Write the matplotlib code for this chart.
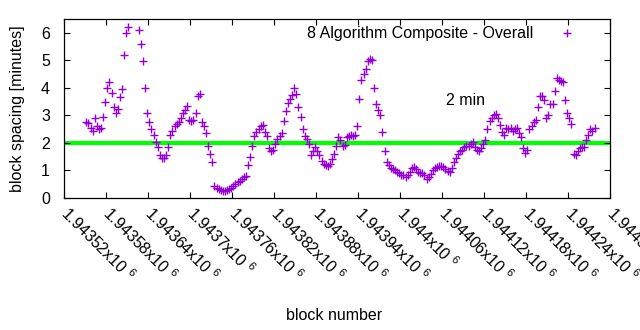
import numpy as np
import matplotlib
matplotlib.use("Agg")
import matplotlib.pyplot as plt

plt.rcParams['font.family'] = ['Liberation Sans', 'DejaVu Sans']
plt.rcParams['mathtext.fontset'] = 'custom'
plt.rcParams['mathtext.rm'] = 'Liberation Sans'

# block numbers: every third block starting here
first_block = 1943552
block_step = 3

# average block spacing in minutes (nan = no data)
spacing = [
    2.75, 2.72, 2.55, 2.45, 2.9, 2.6, 2.5, 2.55, 2.95, 3.5,
    4.0, 4.2, 3.8, 3.3, 3.1, 3.25, 3.65, 3.95, 5.2, 6.0,
    6.2, np.nan, np.nan, np.nan, np.nan, 6.1, 5.6, 4.96, 3.98, 3.1,
    2.75, 2.5, 2.3, 2.05, 1.85, 1.55, 1.45, 1.45, 1.55, 1.85,
    2.3, 2.45, 2.6, 2.7, 2.75, 2.9, 3.1, 3.2, 3.35, 2.85,
    2.8, 2.85, 3.1, 3.72, 3.76, 2.75, 2.6, 2.35, 1.9, 1.6,
    1.3, 0.45, 0.38, 0.32, 0.28, 0.25, 0.27, 0.3, 0.33, 0.38,
    0.42, 0.5, 0.57, 0.63, 0.69, 0.75, 0.8, 1.2, 1.5, 1.9,
    2.25, 2.4, 2.5, 2.6, 2.65, 2.4, 2.25, 1.8, 1.7, 1.75,
    1.95, 2.15, 2.25, 2.35, 2.8, 3.15, 3.45, 3.6, 3.75, 4.0,
    3.76, 3.3, 2.95, 2.5, 2.25, 2.15, 1.95, 1.56, 1.7, 1.85,
    1.72, 1.55, 1.35, 1.25, 1.2, 1.15, 1.25, 1.4, 1.6, 1.9,
    2.2, 2.1, 1.9, 1.92, 2.2, 2.25, 2.3, 2.25, 2.3, 2.6,
    3.6, 4.3, 4.5, 4.7, 4.99, 5.05, 5.0, 4.0, 3.4, 3.2,
    3.0, 2.4, 1.7, 1.3, 1.2, 1.1, 1.05, 1.0, 0.95, 0.9,
    0.85, 0.82, 0.75, 0.85, 0.95, 1.08, 1.12, 1.05, 0.95, 0.92,
    0.9, 0.85, 0.7, 0.78, 0.88, 1.0, 1.08, 1.12, 1.15, 1.18,
    1.12, 1.05, 0.98, 0.95, 1.1, 1.3, 1.45, 1.6, 1.7, 1.75,
    1.85, 1.9, 1.9, 1.95, 2.05, 1.85, 1.75, 1.72, 1.8, 1.95,
    2.1, 2.5, 2.8, 2.9, 3.0, 3.05, 2.9, 2.65, 2.4, 2.3,
    2.55, 2.5, 2.55, 2.45, 2.5, 2.55, 2.35, 2.2, 1.8, 1.65,
    1.75, 2.5, 2.6, 2.75, 2.85, 3.3, 3.7, 3.72, 3.55, 2.9,
    3.0, 3.4, 3.4, 3.9, 4.35, 4.3, 4.25, 4.2, 3.55, 3.1,
    2.9, 2.7, 1.6, 1.55, 1.7, 1.8, 1.85, 1.85, 2.1, 2.3,
    2.5, 2.45, 2.55,
]

target_minutes = 2.0
x_ticks = [1943520, 1943580, 1943640, 1943700, 1943760, 1943820, 1943880,
           1943940, 1944000, 1944060, 1944120, 1944180, 1944240, 1944300]
x_tick_labels = ["1.94352", "1.94358", "1.94364", "1.9437", "1.94376", "1.94382",
                 "1.94388", "1.94394", "1.944", "1.94406", "1.94412", "1.94418",
                 "1.94424", "1.9443"]
y_ticks = [0, 1, 2, 3, 4, 5, 6]

blocks = first_block + block_step * np.arange(len(spacing))

fig = plt.figure(figsize=(6.4, 3.3), dpi=100)
ax = fig.add_axes([0.1, 0.4, 0.853, 0.5424])

ax.axhline(target_minutes, color='#00ff00', lw=3.0, zorder=1)
ax.plot(blocks, spacing, linestyle='none', marker='+', markersize=6.2,
        markeredgewidth=1.0, color='#9400d3', zorder=2,
        label='8 Algorithm Composite - Overall')

ax.set_xlim(1943520, 1944300)
ax.set_ylim(0, 6.5)
ax.set_xticks(x_ticks)
ax.set_xticklabels([s + r"x10 $^{6}$" for s in x_tick_labels], rotation=-45,
                   ha='left', va='center', rotation_mode='anchor', fontsize=11.5)
ax.set_yticks(y_ticks)
ax.tick_params(axis='y', labelsize=11.5, pad=10)
ax.tick_params(direction='in', length=4, width=0.8, top=True, right=True)
ax.tick_params(axis='x', pad=9)
for s in ax.spines.values():
    s.set_linewidth(0.9)

ax.text(1944066, 3.53, '2 min', fontsize=11.5, ha='left', va='center')

ax.set_ylabel('block spacing [minutes]', fontsize=11.5, labelpad=8)
ax.yaxis.set_label_coords(-0.072, 0.5)
fig.text(0.522, 0.045, 'block number', fontsize=11.5, ha='center', va='center')

leg = ax.legend(loc='upper right', markerfirst=False, frameon=False,
                fontsize=11.5, handlelength=2.2, borderaxespad=0.05,
                handletextpad=1.05, bbox_to_anchor=(0.967, 1.0))

fig.savefig('out.png', dpi=100)
